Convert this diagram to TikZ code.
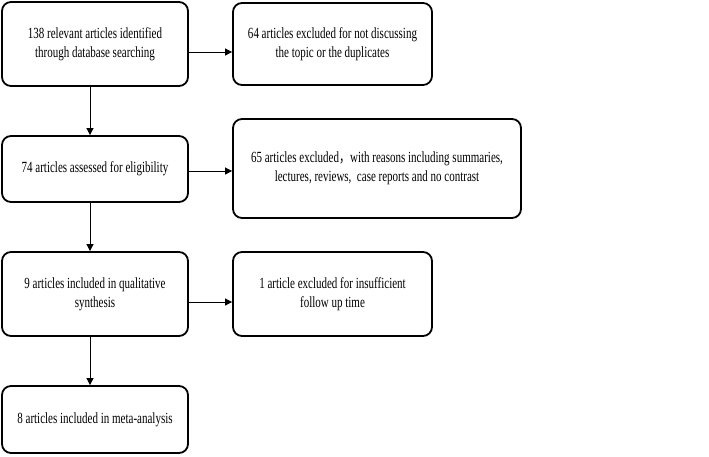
\documentclass[tikz,border=0pt]{standalone}
\usepackage{fontspec}
\setmainfont{Liberation Serif}
\newfontfamily\cond[FakeStretch=0.71]{Liberation Serif}
\newfontfamily\cjk[FakeStretch=0.71]{Noto Sans CJK SC}
\usetikzlibrary{arrows.meta}
\begin{document}
\begin{tikzpicture}[x=1pt,y=-1pt,
  box/.style={draw=black,line width=1.8pt,rounded corners=9pt,align=center,font=\cond\fontsize{15.5}{19}\selectfont},
  conn/.style={line width=0.8pt,-{Triangle[length=7pt,width=7pt]}}]
\useasboundingbox (0,0) rectangle (709,456);
\node[box,minimum width=186pt,minimum height=84pt] (a) at (95,44) {138 relevant articles identified\\through database searching};
\node[box,minimum width=199pt,minimum height=82pt] (b) at (332.5,44) {64 articles excluded for not discussing\\the topic or the duplicates};
\node[box,minimum width=186pt,minimum height=66pt] (c) at (95,169) {74 articles assessed for eligibility};
\node[box,minimum width=288pt,minimum height=99pt] (d) at (377,168.5) {65 articles excluded{\cjk ，}with reasons including summaries,\\lectures, reviews,\ \ case reports and no contrast};
\node[box,minimum width=186pt,minimum height=84pt] (e) at (95,294) {9 articles included in qualitative\\synthesis};
\node[box,minimum width=199pt,minimum height=84pt] (f) at (332.5,294) {1 article excluded for insufficient\\follow up time};
\node[box,minimum width=186pt,minimum height=67pt] (g) at (95,419.5) {8 articles included in meta-analysis};
\coordinate (a1) at (188,52);
\draw[conn] (a1) -- (a1 -| b.west);
\coordinate (c1) at (188,171);
\draw[conn] (c1) -- (c1 -| d.west);
\coordinate (e1) at (188,302);
\draw[conn] (e1) -- (e1 -| f.west);
\draw[conn] (90,86) coordinate (s1) -- (s1 |- c.north);
\draw[conn] (90,202) coordinate (s2) -- (s2 |- e.north);
\draw[conn] (90,336) coordinate (s3) -- (s3 |- g.north);
\end{tikzpicture}
\end{document}
